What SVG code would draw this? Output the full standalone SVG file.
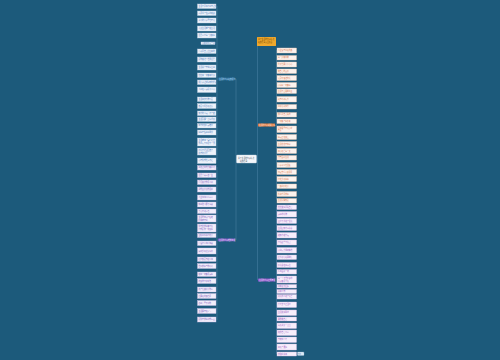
<svg xmlns="http://www.w3.org/2000/svg" width="500" height="360" viewBox="0 0 500 360">
<style>
text{font-family:"Noto Sans CJK SC","Liberation Sans",sans-serif;font-size:1.8px}
.c{fill:none;stroke:#5a90b4;stroke-width:0.4}
.la rect{fill:#eef3fb;stroke:#b9cde6;stroke-width:0.4}
.la text{fill:#4a78b8}
.lb rect{fill:#f2eefb;stroke:#c7b9e6;stroke-width:0.4}
.lb text{fill:#7a58b8}
.ro rect{fill:#fcf3ee;stroke:#e9c3b0;stroke-width:0.4}
.ro text{fill:#d9734a}
.rp rect{fill:#f7eefb;stroke:#d8b9e6;stroke-width:0.4}
.rp text{fill:#9a5cc0}
</style>
<rect width="500" height="360" fill="#1c5a7b"/>
<g id="connectors">
<path class="c" d="M237 159H236M236 79V240M236 79H235M236 240H235"/>
<path class="c" d="M218 79H217M217 6V160M218 240H217M217 167V320"/>
<path class="c" d="M257 159H257.5M257.5 42V280"/>
<path class="c" d="M276 125H276.5M276.5 50V200M276 280H276.5M276.5 207V354"/>
</g>
<g id="center"><rect x="236.5" y="155" width="20" height="8" rx="0.8" fill="#f4f7fb" stroke="#c8d4e2" stroke-width="0.4"/><text x="238" y="158.5" fill="#3a4a5a">关于生活的句子精选</text><text x="240" y="161.5" fill="#3a4a5a">经典语录</text></g>
<g id="topic-a"><rect x="218" y="77.5" width="17" height="2.8" rx="0.6" fill="#2a6a96"/><text x="219" y="79.6" fill="#bfe0ff">生活的句子经典短句</text></g>
<g id="topic-b"><rect x="218" y="238.5" width="17" height="2.8" rx="0.6" fill="#7b55c4"/><text x="219" y="240.6" fill="#f0e6ff">生活的句子唯美简短</text></g>
<g id="topic-y"><rect x="257" y="37" width="19" height="9" rx="0.6" fill="#f0a82c"/><text x="258" y="40" fill="#6a4200">关于生活的句子精选</text><text x="258" y="43" fill="#6a4200">经典语录大全集合</text></g>
<g id="topic-o"><rect x="258" y="123.5" width="17" height="3" rx="0.6" fill="#e2773b"/><text x="259" y="125.6" fill="#fff2e6">生活的句子说说心情</text></g>
<g id="topic-p"><rect x="258" y="278.5" width="17" height="3" rx="0.6" fill="#8a52c8"/><text x="259" y="280.6" fill="#f3e6ff">生活的句子正能量短</text></g>
<g class="la">
<g id="a1"><rect x="197.5" y="4" width="18.5" height="4.5"/><text x="198.5" y="6.9">生活不是等待风暴过去</text></g>
<g id="a2"><rect x="197.5" y="11" width="18.5" height="4.5"/><text x="198.5" y="13.9">而是学会在雨中跳舞</text></g>
<g id="a3"><rect x="197.5" y="18" width="18.5" height="5"/><text x="198.5" y="21.1">平凡的日子里也有光</text></g>
<g id="a4"><rect x="197.5" y="26" width="18.5" height="5"/><text x="198.5" y="29.1">认真生活就会被生活</text></g>
<g id="a5"><rect x="197.5" y="33" width="18.5" height="5"/><text x="198.5" y="36.1">温柔以待每一天都好</text></g>
<g id="a6"><rect x="201" y="42" width="14" height="2.5"/><text x="202" y="43.9">心若向阳无畏悲伤</text></g>
<g id="a7"><rect x="197.5" y="49" width="18.5" height="4.5"/><text x="198.5" y="51.9">日子是自己过出来的</text></g>
<g id="a8"><rect x="197.5" y="57" width="18.5" height="5"/><text x="198.5" y="60.1">愿你被这个世界温柔</text></g>
<g id="a9"><rect x="197.5" y="65" width="18.5" height="5"/><text x="198.5" y="68.1">生活总会有惊喜出现</text></g>
<g id="a10"><rect x="197.5" y="73" width="18.5" height="4.5"/><text x="198.5" y="75.9">慢慢来一切都来得及</text></g>
<g id="a11"><rect x="197.5" y="80" width="18.5" height="4.5"/><text x="198.5" y="82.9">把日子过成喜欢的样子</text></g>
<g id="a12"><rect x="197.5" y="87" width="18.5" height="5.5"/><text x="198.5" y="90.3">人间烟火最抚凡人心</text></g>
<g id="a13"><rect x="197.5" y="97" width="18.5" height="4.5"/><text x="198.5" y="99.9">生活明朗万物可爱</text></g>
<g id="a14"><rect x="197.5" y="103.5" width="18.5" height="5"/><text x="198.5" y="106.6">热爱可抵岁月漫长</text></g>
<g id="a15"><rect x="197.5" y="111" width="18.5" height="4.5"/><text x="198.5" y="113.9">努力的人运气不会差</text></g>
<g id="a16"><rect x="197.5" y="117" width="18.5" height="4.5"/><text x="198.5" y="119.9">生活需要一点仪式感</text></g>
<g id="a17"><rect x="197.5" y="123.5" width="18.5" height="4.5"/><text x="198.5" y="126.4">简单的快乐最难得</text></g>
<g id="a18"><rect x="197.5" y="130" width="18.5" height="5"/><text x="198.5" y="133.1">好好吃饭好好睡觉</text></g>
<g id="a19"><rect x="197.5" y="138" width="18.5" height="8"/><text x="198.5" y="141.2">生活就像一盒巧克力</text><text x="198.5" y="144.2">你永远不知道下一颗</text></g>
<g id="a20"><rect x="197.5" y="148" width="18.5" height="7"/><text x="198.5" y="151">时光不语却回答了</text><text x="198.5" y="153.8">所有的问题</text></g>
<g id="a21"><rect x="197.5" y="158" width="18.5" height="5.5"/><text x="198.5" y="161.3">心有所期忙而不茫</text></g>
</g>
<g class="lb">
<g id="b1"><rect x="197.5" y="165.5" width="18.5" height="4.5"/><text x="198.5" y="168.4">风吹过的地方都是诗</text></g>
<g id="b2"><rect x="197.5" y="173" width="18.5" height="4.5"/><text x="198.5" y="175.9">温柔半两从容一生</text></g>
<g id="b3"><rect x="197.5" y="180" width="18.5" height="4.5"/><text x="198.5" y="182.9">星河滚烫你是人间</text></g>
<g id="b4"><rect x="197.5" y="187" width="18.5" height="5"/><text x="198.5" y="190.1">理想且浪漫地活着</text></g>
<g id="b5"><rect x="197.5" y="195" width="18.5" height="5"/><text x="198.5" y="198.1">人生海海山山而川</text></g>
<g id="b6"><rect x="197.5" y="202" width="18.5" height="5"/><text x="198.5" y="205.1">晚风吹人醒万事藏</text></g>
<g id="b7"><rect x="197.5" y="209" width="18.5" height="4.5"/><text x="198.5" y="211.9">于心不动声色</text></g>
<g id="b8"><rect x="197.5" y="215" width="18.5" height="7"/><text x="198.5" y="218">生活原本沉闷但跑</text><text x="198.5" y="220.8">起来就有风</text></g>
<g id="b9"><rect x="197.5" y="224" width="18.5" height="8"/><text x="198.5" y="227.2">所有的美好都不负</text><text x="198.5" y="230.2">归期愿你一切安好</text></g>
<g id="b10"><rect x="197.5" y="233.5" width="18.5" height="4"/><text x="198.5" y="236.2">且听风吟静待花开</text></g>
<g id="b11"><rect x="197.5" y="241" width="18.5" height="4.5"/><text x="198.5" y="243.9">日落归山海山海藏</text></g>
<g id="b12"><rect x="197.5" y="248" width="18.5" height="6"/><text x="198.5" y="251.6">深意岁月漫长值得</text></g>
<g id="b13"><rect x="197.5" y="257" width="18.5" height="4.5"/><text x="198.5" y="259.9">保持热爱奔赴山海</text></g>
<g id="b14"><rect x="197.5" y="263.5" width="18.5" height="5"/><text x="198.5" y="266.6">世间美好与你环环</text></g>
<g id="b15"><rect x="197.5" y="272" width="18.5" height="4.5"/><text x="198.5" y="274.9">相扣一切都是最好</text></g>
<g id="b16"><rect x="197.5" y="278.5" width="18.5" height="5"/><text x="198.5" y="281.6">的安排不必着急</text></g>
<g id="b17"><rect x="197.5" y="287" width="18.5" height="5"/><text x="198.5" y="290.1">花会沿路盛开你以</text></g>
<g id="b18"><rect x="197.5" y="293.5" width="18.5" height="5"/><text x="198.5" y="296.6">后要走的路也是</text></g>
<g id="b19"><rect x="197.5" y="300.5" width="18.5" height="5"/><text x="198.5" y="303.6">春风十里不如你</text></g>
<g id="b20"><rect x="197.5" y="308.5" width="18.5" height="5"/><text x="198.5" y="311.6">生活要有烟火气</text></g>
<g id="b21"><rect x="197.5" y="317" width="18.5" height="5"/><text x="198.5" y="320.1">愿所有美好如期而至</text></g>
</g>
<g class="ro">
<g id="o1"><rect x="277" y="48" width="19.5" height="5"/><text x="278" y="51.1">人生没有白走的路</text></g>
<g id="o2"><rect x="277" y="55.5" width="19.5" height="4.5"/><text x="278" y="58.4">每一步都算数</text></g>
<g id="o3"><rect x="277" y="62" width="19.5" height="5"/><text x="278" y="65.1">今天也要开开心心</text></g>
<g id="o4"><rect x="277" y="69" width="19.5" height="4.5"/><text x="278" y="71.9">做自己的太阳</text></g>
<g id="o5"><rect x="277" y="75.5" width="19.5" height="5"/><text x="278" y="78.6">无需凭借谁的光</text></g>
<g id="o6"><rect x="277" y="82.5" width="19.5" height="5"/><text x="278" y="85.6">心情好一切都好</text></g>
<g id="o7"><rect x="277" y="89" width="19.5" height="4.5"/><text x="278" y="91.9">生活不止眼前苟且</text></g>
<g id="o8"><rect x="277" y="96.5" width="19.5" height="5.5"/><text x="278" y="99.8">还有诗和远方</text></g>
<g id="o9"><rect x="277" y="104.5" width="19.5" height="4.5"/><text x="278" y="107.4">向着光亮那方</text></g>
<g id="o10"><rect x="277" y="112.5" width="19.5" height="4.5"/><text x="278" y="115.4">快乐是自己给的</text></g>
<g id="o11"><rect x="277" y="119" width="19.5" height="4.5"/><text x="278" y="121.9">一切都会好起来</text></g>
<g id="o12"><rect x="277" y="126" width="19.5" height="6.5"/><text x="278" y="128.8">愿你眼里有光心中</text><text x="278" y="131.4">有爱</text></g>
<g id="o13"><rect x="277" y="134.5" width="19.5" height="5"/><text x="278" y="137.6">好运正在路上</text></g>
<g id="o14"><rect x="277" y="141.5" width="19.5" height="5"/><text x="278" y="144.6">生活处处有惊喜</text></g>
<g id="o15"><rect x="277" y="148.5" width="19.5" height="5"/><text x="278" y="151.6">用心感受每一天</text></g>
<g id="o16"><rect x="277" y="155.5" width="19.5" height="4.5"/><text x="278" y="158.4">微笑面对生活</text></g>
<g id="o17"><rect x="277" y="162.5" width="19.5" height="5"/><text x="278" y="165.6">日子平淡也温暖</text></g>
<g id="o18"><rect x="277" y="169.5" width="19.5" height="5"/><text x="278" y="172.6">知足常乐心安即是</text></g>
<g id="o19"><rect x="277" y="176.5" width="19.5" height="5"/><text x="278" y="179.6">归处岁月静好</text></g>
<g id="o20"><rect x="277" y="184" width="19.5" height="4.5"/><text x="278" y="186.9">一路向阳花开</text></g>
<g id="o21"><rect x="277" y="191.5" width="19.5" height="5"/><text x="278" y="194.6">所遇皆是美好</text></g>
<g id="o22"><rect x="277" y="198.5" width="19.5" height="4.5"/><text x="278" y="201.4">生活需要热爱</text></g>
</g>
<g class="rp">
<g id="p1"><rect x="277" y="205" width="19.5" height="4.5"/><text x="278" y="207.9">慢慢变好是给自己</text></g>
<g id="p2"><rect x="277" y="211.5" width="19.5" height="5.5"/><text x="278" y="214.8">最好的礼物</text></g>
<g id="p3"><rect x="277" y="218.5" width="19.5" height="5"/><text x="278" y="221.6">坚持下去终会发光</text></g>
<g id="p4"><rect x="277" y="225.5" width="19.5" height="5"/><text x="278" y="228.6">生活因努力而精彩</text></g>
<g id="p5"><rect x="277" y="232.5" width="19.5" height="5.5"/><text x="278" y="235.8">越努力越幸运</text></g>
<g id="p6"><rect x="277" y="240" width="19.5" height="5"/><text x="278" y="243.1">不负韶华不负己</text></g>
<g id="p7"><rect x="277" y="247.5" width="19.5" height="5.5"/><text x="278" y="250.8">心向远方脚踏实地</text></g>
<g id="p8"><rect x="277" y="255" width="19.5" height="4.5"/><text x="278" y="257.9">保持初心砥砺前行</text></g>
<g id="p9"><rect x="277" y="262.5" width="19.5" height="5"/><text x="278" y="265.6">阳光总在风雨后</text></g>
<g id="p10"><rect x="277" y="269.5" width="19.5" height="4.5"/><text x="278" y="272.4">乐观面对一切</text></g>
<g id="p11"><rect x="277" y="276" width="19.5" height="7"/><text x="278" y="279">每一个不曾起舞的</text><text x="278" y="281.8">日子都是辜负</text></g>
<g id="p12"><rect x="277" y="284.5" width="19.5" height="3.5"/><text x="278" y="286.9">向前走别回头</text></g>
<g id="p13"><rect x="277" y="289.5" width="19.5" height="4"/><text x="278" y="292.2">未来可期</text></g>
<g id="p14"><rect x="277" y="294.5" width="19.5" height="4.5"/><text x="278" y="297.4">追光的人终会光芒</text></g>
<g id="p15"><rect x="277" y="302" width="19.5" height="5.5"/><text x="278" y="305.3">万丈奋斗正当时</text></g>
<g id="p16"><rect x="277" y="310" width="19.5" height="5.5"/><text x="278" y="313.3">生活充满希望</text></g>
<g id="p17"><rect x="277" y="317" width="19.5" height="4"/><text x="278" y="319.7">勇敢做自己</text></g>
<g id="p18"><rect x="277" y="323" width="19.5" height="5.5"/><text x="278" y="326.3">每天进步一点点</text></g>
<g id="p19"><rect x="277" y="330" width="19.5" height="5.5"/><text x="278" y="333.3">相信自己可以</text></g>
<g id="p20"><rect x="277" y="337" width="19.5" height="5.5"/><text x="278" y="340.3">奔跑吧少年</text></g>
<g id="p21"><rect x="277" y="344" width="19.5" height="6"/><text x="278" y="347.6">明天会更好</text></g>
<g id="p22"><rect x="277" y="352" width="19.5" height="4"/><text x="278" y="354.7">加油向未来</text></g>
</g>
<g id="p22-tag"><rect x="297.5" y="352" width="6.5" height="3.5" rx="0.4" fill="#dbe9f6" stroke="#9fbad6" stroke-width="0.3"/><text x="298" y="354.4" fill="#3a6fb0" style="font-size:1.6px">更多</text></g>
</svg>
